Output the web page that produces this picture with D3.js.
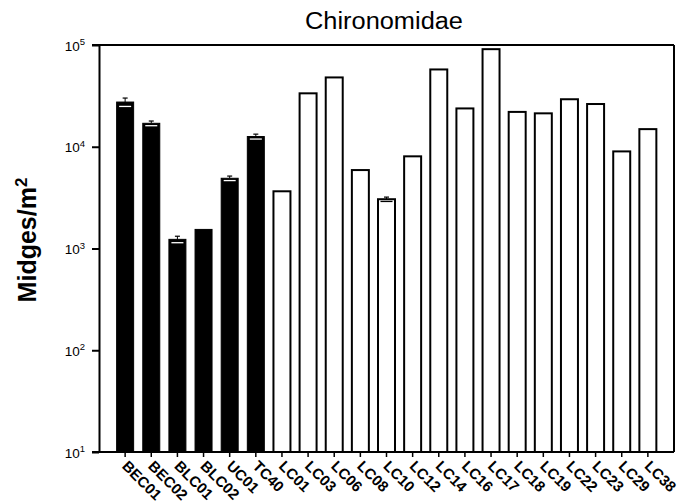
<!DOCTYPE html>
<html>
<head>
<meta charset="utf-8">
<script src="https://cdn.jsdelivr.net/npm/d3@7"></script>
<style>
  html, body { margin: 0; padding: 0; background: #fff; }
  svg { display: block; font-family: "Liberation Sans", Arial, sans-serif; }
</style>
</head>
<body>
<svg id="chart" width="681" height="504"></svg>
<script>
// Sites sampled, mean midge density (individuals per m^2) and upper error
const categories = ["BEC01", "BEC02", "BLC01", "BLC02", "UC01", "TC40",
  "LC01", "LC03", "LC06", "LC08", "LC10", "LC12", "LC14", "LC16", "LC17",
  "LC18", "LC19", "LC22", "LC23", "LC29", "LC38"];
const values = [27500, 17000, 1230, 1540, 4900, 12600,
  3650, 33500, 48000, 5900, 3050, 8050, 57500, 23800, 91000,
  22000, 21300, 29300, 26300, 9000, 14900];
const errors = [2600, 900, 90, 0, 250, 700,
  0, 0, 0, 0, 150, 0, 0, 0, 0,
  0, 0, 0, 0, 0, 0];
// Reference sites drawn solid, Little Calumet sites drawn open
const referenceSites = ["BEC01", "BEC02", "BLC01", "BLC02", "UC01", "TC40"];
const yTicks = [10, 100, 1000, 10000, 100000];
const titleText = "Chironomidae";

const svg = d3.select("#chart");
const mLeft = 99, mRight = 674, mTop = 45, mBottom = 452;

const x = d3.scaleBand().domain(categories).range([mLeft, mRight])
  .paddingInner(0.35).paddingOuter(0.675);
const y = d3.scaleLog().domain([10, 100000]).range([mBottom, mTop]);

// Bars
const bars = svg.append("g");
categories.forEach((c, i) => {
  const solid = referenceSites.includes(c);
  bars.append("rect")
    .attr("x", x(c)).attr("y", y(values[i]))
    .attr("width", x.bandwidth()).attr("height", mBottom - y(values[i]))
    .attr("fill", solid ? "#000" : "#fff")
    .attr("stroke", "#000").attr("stroke-width", solid ? 1 : 2);
});

// Error whiskers: upper cap in black, lower cap shows white inside solid bars
const eb = svg.append("g");
categories.forEach((c, i) => {
  const e = errors[i];
  if (!e) return;
  const cx = x(c) + x.bandwidth() / 2;
  const solid = referenceSites.includes(c);
  const yHi = y(values[i] + e), yLo = y(values[i] - e);
  eb.append("line").attr("x1", cx).attr("x2", cx).attr("y1", yHi).attr("y2", y(values[i]))
    .attr("stroke", "#000").attr("stroke-width", 1);
  eb.append("line").attr("x1", cx - 2.5).attr("x2", cx + 2.5).attr("y1", yHi).attr("y2", yHi)
    .attr("stroke", "#000").attr("stroke-width", 1.2);
  eb.append("line").attr("x1", cx - 6).attr("x2", cx + 6).attr("y1", yLo).attr("y2", yLo)
    .attr("stroke", solid ? "#fff" : "#000").attr("stroke-width", 1.3);
});

// Y axis (log decades)
const yAxis = svg.append("g").attr("transform", `translate(${mLeft},0)`)
  .call(d3.axisLeft(y).tickValues(yTicks).tickSize(7).tickSizeOuter(0).tickFormat(""));
yAxis.select(".domain").attr("stroke-width", 2);
yAxis.selectAll(".tick line").attr("stroke-width", 2);
yAxis.selectAll(".tick").each(function (d) {
  const t = d3.select(this).append("text")
    .attr("x", -14).attr("y", 5)
    .attr("text-anchor", "end").attr("fill", "#000")
    .style("font-size", "13.5px");
  t.append("tspan").text("10");
  t.append("tspan").attr("dy", -5.5).style("font-size", "9.5px").text(Math.round(Math.log10(d)));
});

// X axis with site labels
const xAxis = svg.append("g").attr("transform", `translate(0,${mBottom})`)
  .call(d3.axisBottom(x).tickSize(5).tickSizeOuter(0));
xAxis.select(".domain").remove();
xAxis.selectAll(".tick line").attr("stroke-width", 1.5);
xAxis.selectAll(".tick text")
  .attr("text-anchor", "start")
  .attr("x", 0).attr("y", 0).attr("dy", 0)
  .attr("transform", "translate(-4,15) rotate(45)")
  .attr("fill", "#000")
  .style("font-size", "15px").style("font-weight", "bold");

// Frame lines
const frame = svg.append("g").attr("stroke", "#000").attr("stroke-width", 2);
frame.append("line").attr("x1", mLeft - 7).attr("x2", mRight).attr("y1", mTop).attr("y2", mTop);
frame.append("line").attr("x1", mRight).attr("x2", mRight).attr("y1", mTop).attr("y2", mBottom);
frame.append("line").attr("x1", mLeft - 7).attr("x2", mRight).attr("y1", mBottom).attr("y2", mBottom);

// Title
svg.append("text").attr("x", 384).attr("y", 29).attr("text-anchor", "middle")
  .attr("textLength", 158).attr("lengthAdjust", "spacingAndGlyphs")
  .style("font-size", "23px").text(titleText);

// Y-axis label
const yl = svg.append("text")
  .attr("transform", "translate(36,240) rotate(-90)")
  .attr("text-anchor", "middle")
  .style("font-size", "25px").style("font-weight", "bold");
yl.append("tspan").text("Midges/m");
yl.append("tspan").attr("dy", -9).style("font-size", "17px").text("2");
</script>
</body>
</html>
